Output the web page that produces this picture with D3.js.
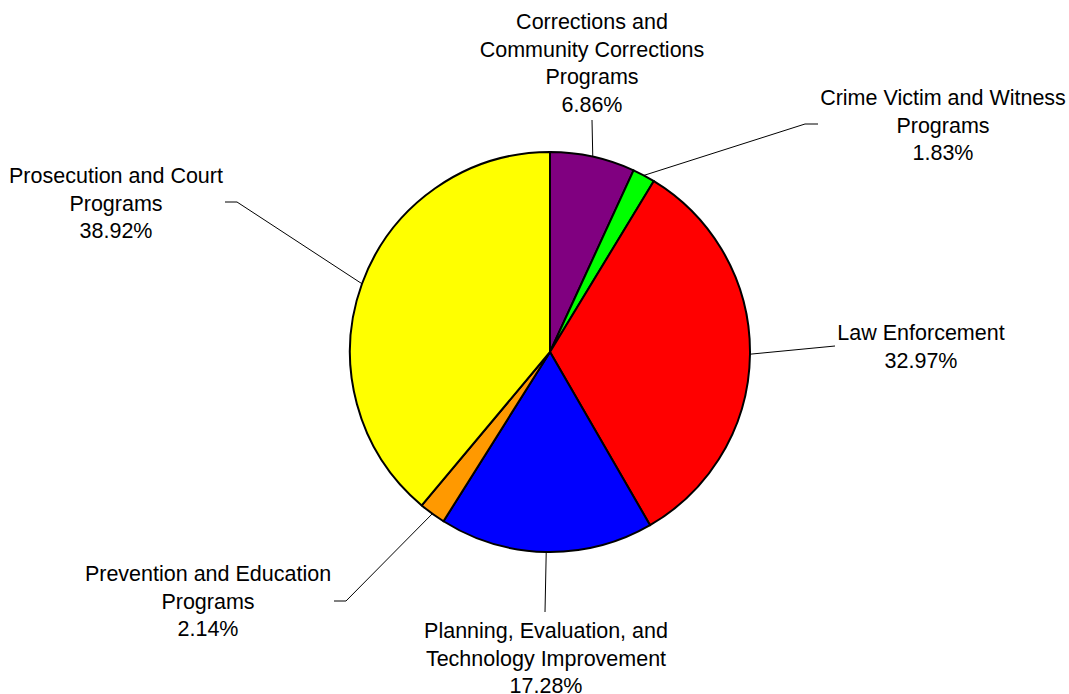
<!DOCTYPE html>
<html>
<head>
<meta charset="utf-8">
<script src="https://cdn.jsdelivr.net/npm/d3@7/dist/d3.min.js"></script>
<style>
  html, body { margin: 0; padding: 0; background: #fff; }
  svg { display: block; }
  text { font-family: "Liberation Sans", Arial, sans-serif; font-size: 21.5px; fill: #000; }
</style>
</head>
<body>
<svg id="chart" width="1069" height="694"></svg>
<script>
// Funding share by program area (percent of total)
const categories = [
  "Corrections and Community Corrections Programs",
  "Crime Victim and Witness Programs",
  "Law Enforcement",
  "Planning, Evaluation, and Technology Improvement",
  "Prevention and Education Programs",
  "Prosecution and Court Programs"
];
const values = [6.86, 1.83, 32.97, 17.28, 2.14, 38.92];
const labelLines = [
  ["Corrections and", "Community Corrections", "Programs"],
  ["Crime Victim and Witness", "Programs"],
  ["Law Enforcement"],
  ["Planning, Evaluation, and", "Technology Improvement"],
  ["Prevention and Education", "Programs"],
  ["Prosecution and Court", "Programs"]
];
const colors = ["#800080", "#00FF00", "#FF0000", "#0000FF", "#FF9900", "#FFFF00"];

// Label placement: block centre x, first baseline y, leader elbow and stub end
const labelLayout = [
  { x: 592, y: 29,  elbow: [592, 120], stub: null },
  { x: 943, y: 105, elbow: [805, 124], stub: [818, 124] },
  { x: 921, y: 340, elbow: [835, 346], stub: null },
  { x: 546, y: 638, elbow: [545, 612], stub: null },
  { x: 208, y: 581, elbow: [346, 601], stub: [334, 601] },
  { x: 116, y: 183, elbow: [237, 202], stub: [225, 202] }
];
const lineHeight = 27.5;

const cx = 550, cy = 352, radius = 200;
const svg = d3.select("#chart");
const g = svg.append("g").attr("transform", `translate(${cx},${cy})`);

const data = categories.map((c, i) => ({ name: c, value: values[i], color: colors[i], lines: labelLines[i], layout: labelLayout[i] }));

const pie = d3.pie().value(d => d.value).sort(null);
const arc = d3.arc().innerRadius(0).outerRadius(radius);
const arcs = pie(data);

g.selectAll("path.slice")
  .data(arcs)
  .join("path")
  .attr("class", "slice")
  .attr("d", arc)
  .attr("fill", d => d.data.color)
  .attr("stroke", "#000")
  .attr("stroke-width", 2)
  .attr("stroke-linejoin", "round");

// Leader lines from the slice's mid-angle on the rim to its label
const leaders = svg.append("g");
arcs.forEach(d => {
  const a = (d.startAngle + d.endAngle) / 2;
  const start = [cx + radius * Math.sin(a), cy - radius * Math.cos(a)];
  const pts = [start, d.data.layout.elbow];
  if (d.data.layout.stub) pts.push(d.data.layout.stub);
  leaders.append("path")
    .attr("d", d3.line()(pts))
    .attr("fill", "none")
    .attr("stroke", "#000")
    .attr("stroke-width", 1);
});

// Labels: category name lines followed by the percentage
const labels = svg.append("g");
arcs.forEach(d => {
  const L = d.data.layout;
  const t = labels.append("text").attr("text-anchor", "middle");
  const lines = d.data.lines.concat([d.data.value.toFixed(2) + "%"]);
  lines.forEach((ln, i) => {
    t.append("tspan").attr("x", L.x).attr("y", L.y + i * lineHeight).text(ln);
  });
});
</script>
</body>
</html>
